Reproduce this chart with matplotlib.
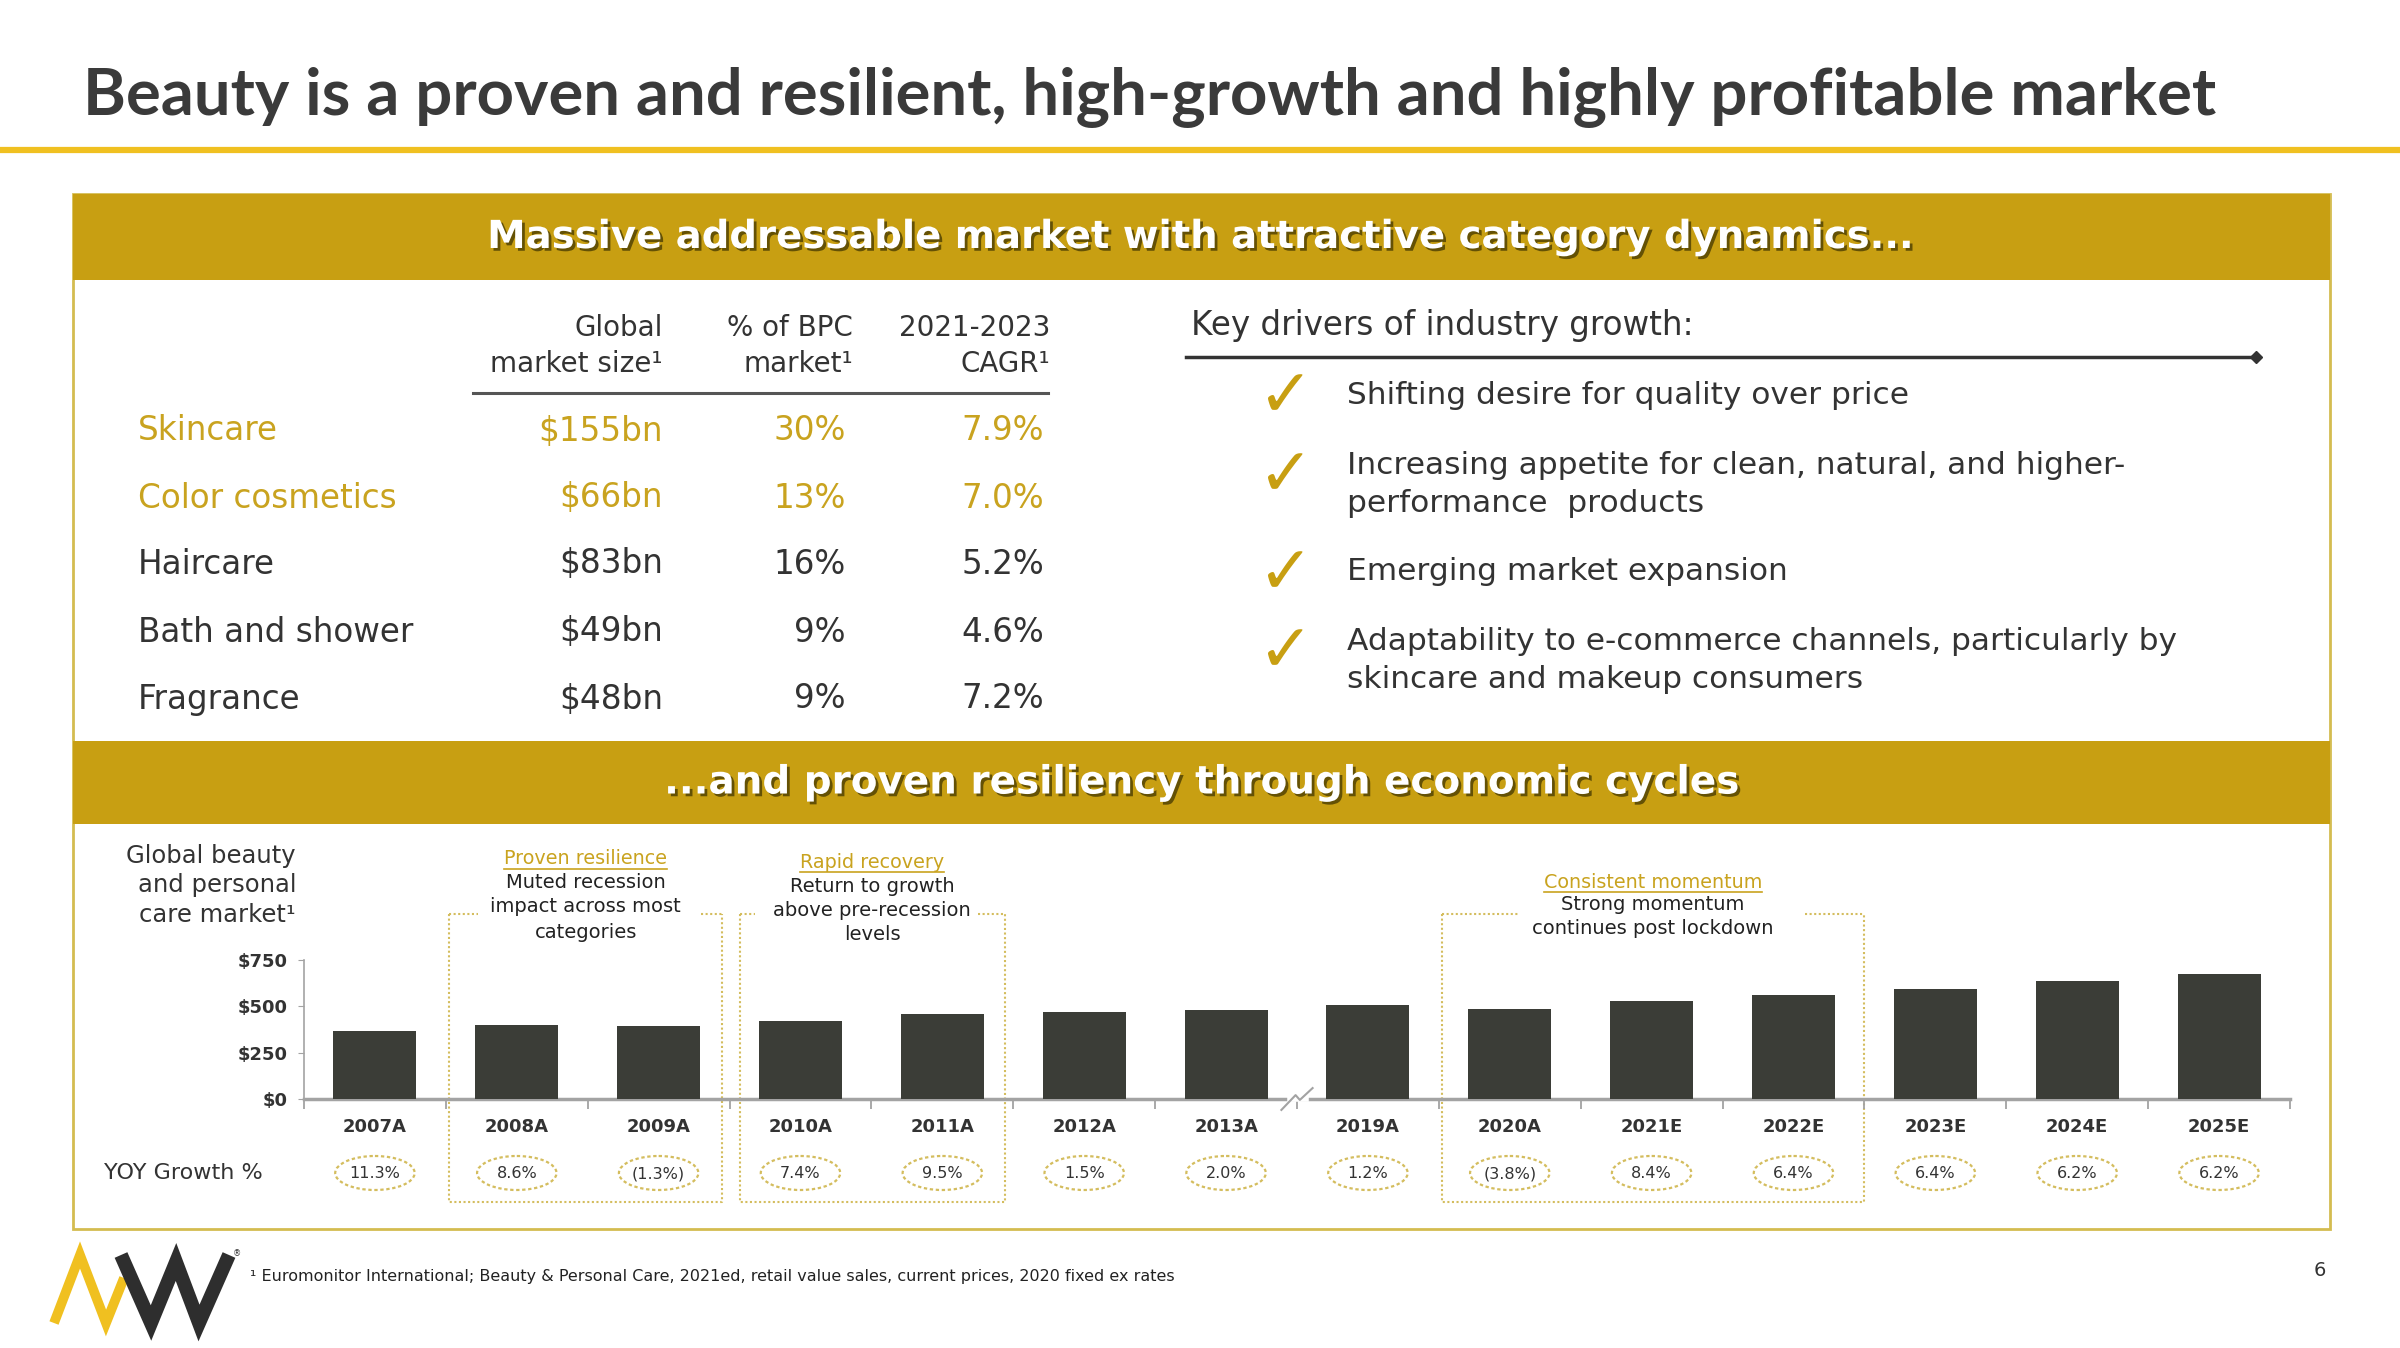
import matplotlib
matplotlib.use("Agg")
import matplotlib.pyplot as plt
import matplotlib.patheffects as pe
import matplotlib.transforms as mtransforms
from matplotlib.patches import Rectangle, Ellipse

plt.rcParams['font.family'] = ['DejaVu Sans']

# ---- data ----
segments = ["Skincare", "Color cosmetics", "Haircare", "Bath and shower", "Fragrance"]
market_size = ["$155bn", "$66bn", "$83bn", "$49bn", "$48bn"]
bpc_share = ["30%", "13%", "16%", "9%", "9%"]
cagr = ["7.9%", "7.0%", "5.2%", "4.6%", "7.2%"]
focus = [True, True, False, False, False]

drivers = ["Shifting desire for quality over price",
           "Increasing appetite for clean, natural, and higher-\nperformance  products",
           "Emerging market expansion",
           "Adaptability to e-commerce channels, particularly by\nskincare and makeup consumers"]

years = ["2007A", "2008A", "2009A", "2010A", "2011A", "2012A", "2013A",
         "2019A", "2020A", "2021E", "2022E", "2023E", "2024E", "2025E"]
market = [366, 397, 392, 421, 461, 470, 479, 505, 486, 527, 560, 596, 634, 674]
yoy = ["11.3%", "8.6%", "(1.3%)", "7.4%", "9.5%", "1.5%", "2.0%",
       "1.2%", "(3.8%)", "8.4%", "6.4%", "6.4%", "6.2%", "6.2%"]

callouts = [("Proven resilience", "Muted recession\nimpact across most\ncategories"),
            ("Rapid recovery", "Return to growth\nabove pre-recession\nlevels"),
            ("Consistent momentum", "Strong momentum\ncontinues post lockdown")]

GOLD = "#c89f12"
GOLD_TXT = "#c9a31f"
DOT = "#d4bd5e"
DARK = "#333333"
BAR = "#3b3d37"
AXIS = "#a3a3a3"

fig = plt.figure(figsize=(24, 13.48), dpi=100)
bg = fig.add_axes([0, 0, 1, 1])
bg.set_xlim(0, 2400)
bg.set_ylim(1348, 0)
bg.axis("off")

# title + rule
bg.text(83, 97, "Beauty is a proven and resilient, high-growth and highly profitable market",
        family="Lato", fontsize=47, fontweight="bold", color="#3a3a3a", va="center")
bg.plot([0, 2400], [150, 150], color="#f0c020", lw=4.5, solid_capstyle="butt")

# panel + banners
bg.add_patch(Rectangle((73, 194), 2257, 1035, fill=False, ec="#d4bc50", lw=2))
shadow = [pe.withSimplePatchShadow(offset=(2, -2), shadow_rgbFace="#3a3000", alpha=0.7)]
for y0, h, txt, fs in [(194, 86, "Massive addressable market with attractive category dynamics...", 27.8),
                       (741, 83, "...and proven resiliency through economic cycles", 28)]:
    bg.add_patch(Rectangle((73, y0), 2257, h, color=GOLD, lw=0))
    bg.text(1201, y0 + h / 2, txt, fontsize=fs, fontweight="bold", color="white",
            ha="center", va="center", path_effects=shadow)

# table
hdr = [("Global", "market size¹", 663), ("% of BPC", "market¹", 853), ("2021-2023", "CAGR¹", 1050)]
for a, b, xr in hdr:
    bg.text(xr, 328, a, fontsize=20, color=DARK, ha="right", va="center")
    bg.text(xr, 364, b, fontsize=20, color=DARK, ha="right", va="center")
bg.plot([473, 1048], [393, 393], color="#555555", lw=2.2)
row_y = [431, 498, 564, 632, 699]
for i, seg in enumerate(segments):
    c = GOLD_TXT if focus[i] else DARK
    y = row_y[i]
    bg.text(138, y, seg, fontsize=23.5, color=c, va="center")
    bg.text(663, y, market_size[i], fontsize=23.5, color=c, ha="right", va="center")
    bg.text(846, y, bpc_share[i], fontsize=23.5, color=c, ha="right", va="center")
    bg.text(1044, y, cagr[i], fontsize=23.5, color=c, ha="right", va="center")

# key drivers
bg.text(1191, 326, "Key drivers of industry growth:", fontsize=23.5, color=DARK, va="center")
bg.plot([1186, 2255], [357, 357], color=DARK, lw=2.5)
bg.plot([2256], [357], marker="D", ms=6, color=DARK)
check_y = [397, 476, 574, 652]
first_y = [396, 465, 572, 641]
for i, d in enumerate(drivers):
    bg.text(1285, check_y[i], "✓", fontsize=48, color=GOLD, ha="center", va="center")
    for k, line in enumerate(d.split("\n")):
        bg.text(1347, first_y[i] + 38 * k, line, fontsize=22.5, color=DARK, va="center")

# bar chart
ax = fig.add_axes([304 / 2400, 249 / 1348, 1986 / 2400, 139 / 1348])
ax.patch.set_alpha(0)
x = list(range(len(years)))
ax.bar(x, market, width=0.585, color=BAR, zorder=3)
ax.set_xlim(-0.5, len(years) - 0.5)
ax.set_ylim(0, 750)
ax.set_yticks([0, 250, 500, 750], ["$0", "$250", "$500", "$750"])
ax.set_xticks(x, years)
ax.set_xticks([i - 0.5 for i in range(len(years) + 1)], minor=True)
ax.tick_params(axis="x", which="major", length=0, pad=14, labelsize=13, labelcolor=DARK)
ax.tick_params(axis="x", which="minor", length=7, width=1.3, color=AXIS, direction="out")
ax.tick_params(axis="y", length=4, color=AXIS, pad=8, labelsize=13, labelcolor=DARK)
for lab in ax.get_yticklabels() + ax.get_xticklabels():
    lab.set_fontweight("bold")
for s in ["top", "right"]:
    ax.spines[s].set_visible(False)
ax.spines["bottom"].set_color(AXIS)
ax.spines["bottom"].set_linewidth(2.5)
ax.spines["left"].set_color(AXIS)
ax.spines["left"].set_linewidth(1.2)

# axis break between 2013A and 2019A
ax.plot([6.45, 6.56], [0, 0], color="white", lw=4, clip_on=False, zorder=4)
ax.plot([6.39, 6.49, 6.52, 6.61], [-59, 21, -5, 59], color=AXIS, lw=1.5, clip_on=False, zorder=5)

# x in category units, y in page pixels
tr = mtransforms.blended_transform_factory(ax.transData, bg.transData)

bg.text(296, 856, "Global beauty", fontsize=17.5, color=DARK, ha="right", va="center")
bg.text(296, 885, "and personal", fontsize=17.5, color=DARK, ha="right", va="center")
bg.text(296, 915, "care market¹", fontsize=17.5, color=DARK, ha="right", va="center")
bg.text(104, 1173, "YOY Growth %", fontsize=16, color=DARK, va="center")

for i, g in enumerate(yoy):
    bg.add_patch(Ellipse((i, 1173), 0.56, 34, transform=tr, fill=False, ec=DOT,
                         lw=1.6, ls=(0, (1.5, 1.2))))
    bg.text(i, 1174, g, transform=tr, fontsize=11.5, color=DARK, ha="center", va="center")

# dotted call-out boxes
boxes = [(0.52, 2.45, 0.73, 2.30), (2.57, 4.44, 2.68, 4.25), (7.52, 10.50, 8.06, 10.08)]
top_y = [[859, 883, 907, 932], [862, 886, 911, 934], [882, 905, 929]]
renderer = fig.canvas.get_renderer()
for (x0, x1, g0, g1), (head, body), ys in zip(boxes, callouts, top_y):
    kw = dict(color=DOT, lw=1.5, ls=(0, (1, 1.2)), transform=tr)
    bg.plot([x0, x0, x1, x1], [914, 1202, 1202, 914], **kw)
    bg.plot([x0, g0], [914, 914], **kw)
    bg.plot([g1, x1], [914, 914], **kw)
    xc = (x0 + x1) / 2
    t = bg.text(xc, ys[0], head, transform=tr, fontsize=13.8, color=GOLD_TXT,
                ha="center", va="center")
    bb = t.get_window_extent(renderer)
    inv = bg.transData.inverted()
    (ux0, _), (ux1, _) = inv.transform([(bb.x0, bb.y0), (bb.x1, bb.y0)])
    bg.plot([ux0, ux1], [ys[0] + 10, ys[0] + 10], color=GOLD_TXT, lw=1.2)
    for k, line in enumerate(body.split("\n")):
        bg.text(xc, ys[k + 1], line, transform=tr, fontsize=14, color="#222222",
                ha="center", va="center")

# footer
bg.text(250, 1276, "¹ Euromonitor International; Beauty & Personal Care, 2021ed, retail value sales, "
        "current prices, 2020 fixed ex rates", fontsize=11.5, color="#222222", va="center")
bg.text(2320, 1271, "6", fontsize=14, color=DARK, ha="center", va="center")

# logo
bg.plot([54, 80, 106, 124], [1323, 1255, 1323, 1278], color="#f0c020", lw=7,
        solid_joinstyle="miter", solid_capstyle="butt")
bg.plot([121, 151, 176, 199, 229], [1255, 1323, 1262, 1323, 1255], color="#2e2e2e", lw=10,
        solid_joinstyle="miter", solid_capstyle="butt")
bg.text(233, 1254, "®", fontsize=6, color=DARK, ha="left", va="center")

fig.savefig("out.png", dpi=100)
